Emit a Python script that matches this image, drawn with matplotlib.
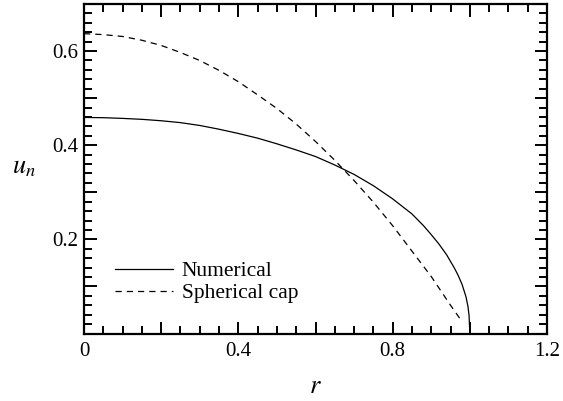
import matplotlib
matplotlib.use('Agg')
import matplotlib.pyplot as plt
from matplotlib.ticker import FixedLocator, MultipleLocator, FuncFormatter

plt.rcParams['font.family'] = ['Liberation Serif', 'DejaVu Serif']
plt.rcParams['mathtext.fontset'] = 'stix'

# numerical solution
r_num = [0.0, 0.05, 0.1, 0.15, 0.2, 0.25, 0.3, 0.35, 0.4, 0.45, 0.5, 0.55, 0.6, 0.65, 0.7,
         0.75, 0.8, 0.85, 0.88, 0.9, 0.92, 0.94, 0.96, 0.97, 0.98, 0.99, 0.995, 0.998, 1.0]
u_num = [0.459, 0.4585, 0.457, 0.455, 0.452, 0.448, 0.442, 0.434, 0.425, 0.415, 0.403, 0.390,
         0.376, 0.358, 0.338, 0.314, 0.286, 0.254, 0.229, 0.21, 0.19, 0.167, 0.139, 0.123,
         0.104, 0.078, 0.058, 0.038, 0.0]

# spherical cap
r_cap = [0.0, 0.05, 0.1, 0.15, 0.2, 0.25, 0.3, 0.35, 0.4, 0.45, 0.5, 0.55, 0.6, 0.65, 0.7,
         0.75, 0.8, 0.85, 0.9, 0.95, 0.98]
u_cap = [0.637, 0.635, 0.631, 0.623, 0.612, 0.597, 0.580, 0.559, 0.535, 0.507, 0.478, 0.445,
         0.408, 0.368, 0.325, 0.279, 0.229, 0.175, 0.121, 0.060, 0.025]

x_labels = {0.0: '0', 0.4: '0.4', 0.8: '0.8', 1.2: '1.2'}
y_labels = {0.2: '0.2', 0.4: '0.4', 0.6: '0.6'}

fig = plt.figure(figsize=(5.63, 4.01), dpi=100)
ax = fig.add_axes([0.1492, 0.1683, 0.8224, 0.8217])

ax.plot(r_num, u_num, color='black', lw=0.9, label='Numerical')
ax.plot(r_cap, u_cap, color='black', lw=0.9, dashes=(5, 4), label='Spherical cap')

ax.set_xlim(0, 1.2)
ax.set_ylim(0, 0.7)

ax.xaxis.set_major_locator(FixedLocator([0, 0.2, 0.4, 0.6, 0.8, 1.0, 1.2]))
ax.xaxis.set_minor_locator(MultipleLocator(0.05))
ax.yaxis.set_major_locator(FixedLocator([0.1, 0.2, 0.3, 0.4, 0.5, 0.6, 0.7]))
ax.yaxis.set_minor_locator(MultipleLocator(0.02))
ax.xaxis.set_major_formatter(FuncFormatter(lambda v, p: x_labels.get(round(v, 2), '')))
ax.yaxis.set_major_formatter(FuncFormatter(lambda v, p: y_labels.get(round(v, 2), '')))

ax.tick_params(which='both', direction='in', top=True, right=True, width=1.4, labelsize=15)
ax.tick_params(which='major', length=9)
ax.tick_params(which='minor', length=5.5)
ax.tick_params(axis='x', pad=6)
ax.tick_params(axis='y', pad=4)
for s in ax.spines.values():
    s.set_linewidth(1.6)

ax.set_xlabel('$r$', fontsize=19, va='baseline')
ax.xaxis.set_label_coords(0.5, -0.18)
ax.set_ylabel('$u_n$', fontsize=19, rotation=0, ha='center', va='baseline')
ax.yaxis.set_label_coords(-0.13, 0.485)

ax.legend(loc='upper left', bbox_to_anchor=(0.067, 0.22), frameon=False, fontsize=15.5,
          handlelength=2.7, handletextpad=0.4, labelspacing=0.1, borderpad=0, borderaxespad=0)

plt.savefig('out.png', dpi=100)
